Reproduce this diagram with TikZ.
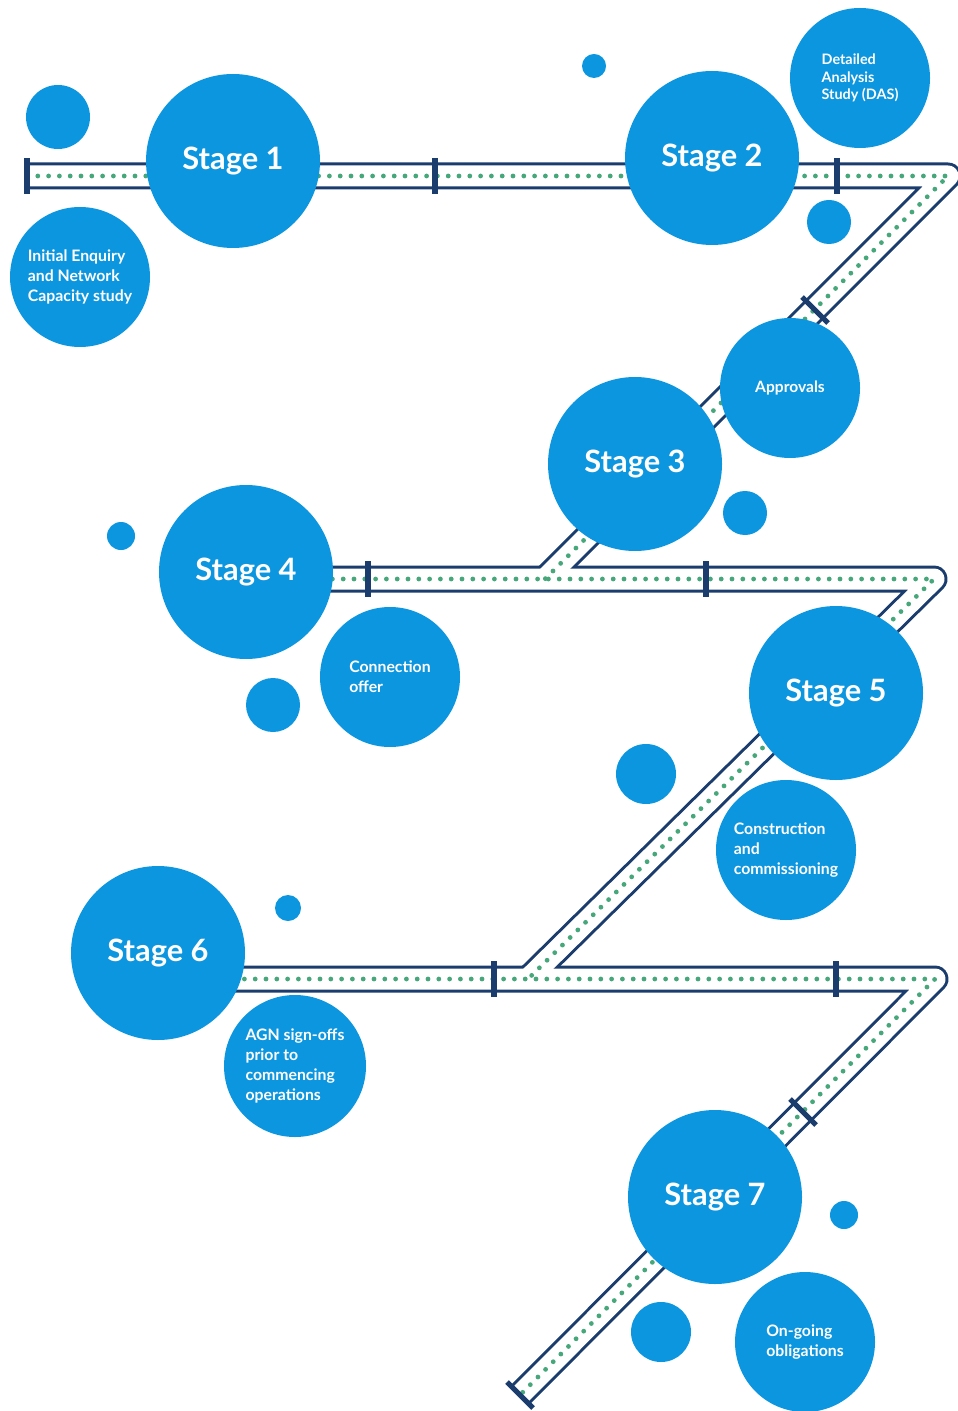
\documentclass[tikz,border=0pt]{standalone}
\usepackage{fontspec}
\usepackage{tikz}
\newfontfamily\stagefont{Lato}
\definecolor{stageblue}{RGB}{12,150,224}
\definecolor{pipenavy}{RGB}{27,61,110}
\definecolor{dotgreen}{RGB}{70,168,122}

\begin{document}
\begin{tikzpicture}[
  x=0.5pt, y=-0.5pt,
  stage/.style={circle,fill=stageblue,minimum size=87pt,inner sep=0pt,text=white,
    font=\stagefont\bfseries\fontsize{15.4}{16}\selectfont},
  info/.style={circle,fill=stageblue,minimum size=70pt,inner sep=0pt,text=white,align=left,
    font=\stagefont\bfseries\fontsize{7.9}{10}\selectfont},
  blob/.style={circle,fill=stageblue,inner sep=0pt},
  pipeout/.style={draw=pipenavy,line width=13.5pt,line join=round},
  pipein/.style={draw=white,line width=10.5pt,line join=round},
  pipedots/.style={draw=dotgreen,line width=2.4pt,line cap=round,dash pattern=on 0pt off 5.4pt},
  joint/.style={draw=pipenavy,line width=2.6pt}
]
\useasboundingbox (0,0) rectangle (957,1411);

% pipe corners
\coordinate (p1a) at (27,176);
\coordinate (p1b) at (948,176);
\coordinate (p1c) at (545,579);
\coordinate (p2a) at (246,579);
\coordinate (p2b) at (934,579);
\coordinate (p2c) at (528,979);
\coordinate (p3a) at (158,979);
\coordinate (p3b) at (935,979);
\coordinate (p3c) at (520,1395);

% pipe
\foreach \s in {pipeout,pipein,pipedots}{
  \draw[\s] (p1a) -- (p1b) -- (p1c);
  \draw[\s] (p2a) -- (p2b) -- (p2c);
  \draw[\s] (p3a) -- (p3b) -- (p3c);
}

% joints
\foreach \jx/\jy in {27/176,435/176,837/176,368/579,706/579,494/979,836/979}
  \draw[joint] (\jx,\jy-18) -- (\jx,\jy+18);
\foreach \jx/\jy in {815/310,803/1112,520/1395}
  \draw[joint] (\jx-13,\jy-13) -- (\jx+13,\jy+13);

% small circles
\node[blob,minimum size=32pt] (b1) at (58,117) {};
\node[blob,minimum size=12pt] (b2) at (594,66) {};
\node[blob,minimum size=22pt] (b3) at (829,222) {};
\node[blob,minimum size=22pt] (b4) at (745,513) {};
\node[blob,minimum size=14pt] (b5) at (121,536) {};
\node[blob,minimum size=27pt] (b6) at (273,705) {};
\node[blob,minimum size=30pt] (b7) at (646,774) {};
\node[blob,minimum size=13pt] (b8) at (288,908) {};
\node[blob,minimum size=14pt] (b9) at (844,1215) {};
\node[blob,minimum size=30pt] (b10) at (661,1332) {};

% info circles
\node[info] (enquiry) at (80,277) {Initial Enquiry\\and Network\\Capacity study};
\node[info,font=\stagefont\bfseries\fontsize{7.2}{8.6}\selectfont] (das) at (860,78) {Detailed\\Analysis\\Study (DAS)};
\node[info,font=\stagefont\bfseries\fontsize{7.8}{9}\selectfont] (approvals) at (790,388) {Approvals};
\node[info] (offer) at (390,677) {Connection\\offer};
\node[info] (construct) at (786,850) {Construction\\and\\commissioning};
\node[info,minimum size=71pt] (signoff) at (295,1066) {AGN sign-offs\\prior to\\commencing\\operations};
\node[info] (ongoing) at (805,1342) {On-going\\obligations};

% stages
\node[stage] (s1) at (233,161) {Stage 1};
\node[stage] (s2) at (712,158) {Stage 2};
\node[stage] (s3) at (635,464) {Stage 3};
\node[stage] (s4) at (246,572) {Stage 4};
\node[stage] (s5) at (836,693) {Stage 5};
\node[stage] (s6) at (158,953) {Stage 6};
\node[stage] (s7) at (715,1197) {Stage 7};

\end{tikzpicture}
\end{document}
